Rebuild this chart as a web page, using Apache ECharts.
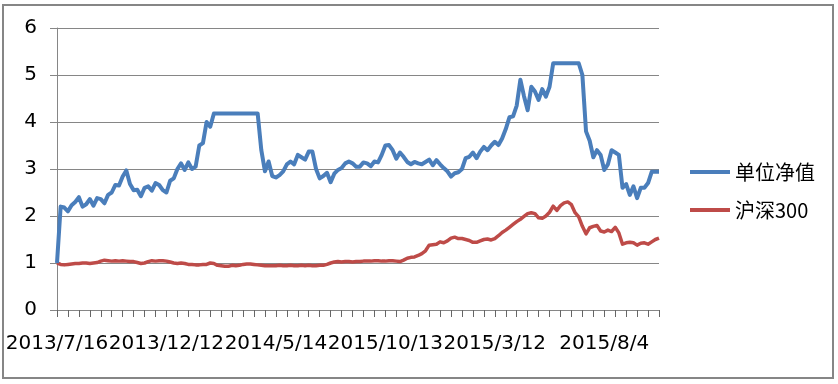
<!DOCTYPE html>
<html>
<head>
<meta charset="utf-8">
<script src="https://cdn.jsdelivr.net/npm/echarts@6/dist/echarts.min.js"></script>
<style>
html,body{margin:0;padding:0;background:#fff;}
#chart{width:838px;height:384px;}
</style>
</head>
<body>
<div id="chart"></div>
<script>
const tickLabels = ['2013/7/16', '2013/12/12', '2014/5/14', '2015/10/13', '2015/3/12', '2015/8/4'];
const seriesNames = ['单位净值', '沪深300'];

const navValues = [
  1.0, 2.2, 2.18, 2.1, 2.23, 2.3, 2.4, 2.2, 2.25, 2.36,
  2.22, 2.38, 2.36, 2.27, 2.45, 2.5, 2.66, 2.65, 2.84, 2.97,
  2.68, 2.55, 2.56, 2.42, 2.6, 2.63, 2.54, 2.7, 2.66, 2.55,
  2.5, 2.75, 2.8, 3.0, 3.12, 2.98, 3.14, 3.0, 3.05, 3.5,
  3.55, 4.0, 3.9, 4.18, 4.18, 4.18, 4.18, 4.18, 4.18, 4.18,
  4.18, 4.18, 4.18, 4.18, 4.18, 4.18, 3.4, 2.95, 3.16, 2.85,
  2.82, 2.87, 2.95, 3.1, 3.16, 3.1, 3.3, 3.25, 3.2, 3.37,
  3.37, 3.0, 2.8, 2.85, 2.92, 2.72, 2.9, 2.98, 3.02, 3.12,
  3.16, 3.12, 3.05, 3.05, 3.14, 3.12, 3.06, 3.16, 3.14, 3.3,
  3.5, 3.51, 3.4, 3.22, 3.35, 3.26, 3.15, 3.1, 3.15, 3.12,
  3.1, 3.15, 3.2, 3.08, 3.19, 3.1, 3.02, 2.95, 2.84, 2.91,
  2.93, 3.0, 3.23, 3.26, 3.35, 3.23, 3.37, 3.47, 3.4, 3.5,
  3.58, 3.51, 3.65, 3.85, 4.1, 4.12, 4.35, 4.9, 4.55, 4.25,
  4.75, 4.65, 4.47, 4.7, 4.54, 4.75, 5.25, 5.25, 5.25, 5.25,
  5.25, 5.25, 5.25, 5.25, 5.0, 3.8, 3.6, 3.25, 3.4, 3.3,
  2.98, 3.1, 3.4, 3.35, 3.3, 2.6, 2.68, 2.45, 2.63, 2.38,
  2.6, 2.6, 2.7, 2.94, 2.94, 2.94
];

const hs300Values = [
  1.0, 0.97, 0.96, 0.97, 0.98, 0.99, 0.99, 1.0, 1.0, 0.99,
  1.0, 1.01, 1.04, 1.06, 1.05, 1.04, 1.05, 1.04, 1.05, 1.04,
  1.03, 1.03, 1.01, 0.99, 1.0, 1.03, 1.05, 1.04, 1.05, 1.05,
  1.04, 1.02, 1.0, 0.99, 1.0, 0.99, 0.97, 0.97, 0.96, 0.96,
  0.97, 0.97, 1.0, 0.99, 0.95, 0.94, 0.93, 0.93, 0.95, 0.94,
  0.95, 0.97, 0.98, 0.98, 0.97, 0.96, 0.95, 0.94, 0.94, 0.94,
  0.94, 0.95, 0.94, 0.94, 0.95, 0.94, 0.94, 0.95, 0.94, 0.95,
  0.94, 0.94, 0.95, 0.95, 0.97, 1.0, 1.02, 1.03, 1.02, 1.03,
  1.03, 1.02, 1.03, 1.03, 1.04, 1.04, 1.04, 1.05, 1.05, 1.04,
  1.04, 1.05, 1.05, 1.04, 1.03, 1.06, 1.1, 1.12, 1.13, 1.16,
  1.2, 1.26, 1.38, 1.39, 1.4, 1.45, 1.43, 1.47, 1.53, 1.55,
  1.52, 1.52, 1.5, 1.48, 1.44, 1.44, 1.47, 1.5, 1.51, 1.49,
  1.52, 1.58, 1.65, 1.7, 1.76, 1.82, 1.88, 1.93, 1.99, 2.05,
  2.07, 2.05, 1.96, 1.95, 2.0, 2.08, 2.21, 2.12, 2.22, 2.28,
  2.3, 2.24, 2.07, 1.98, 1.78, 1.62, 1.75, 1.78, 1.8, 1.68,
  1.66, 1.7, 1.67, 1.76, 1.64, 1.4, 1.43, 1.44, 1.43, 1.38,
  1.42, 1.43, 1.4, 1.45, 1.5, 1.53
];

const labelEvery = 30;
const categories = navValues.map((_, i) => String(i));

const chart = echarts.init(document.getElementById('chart'), null, {renderer: 'canvas'});
const axisGray = '#868686';
chart.setOption({
  animation: false,
  backgroundColor: '#ffffff',
  graphic: [{
    type: 'rect',
    shape: {x: 3, y: 5, width: 830, height: 373},
    style: {fill: 'none', stroke: axisGray, lineWidth: 2},
    silent: true
  }],
  grid: {left: 57, right: 179, top: 28, bottom: 74, containLabel: false},
  legend: {
    orient: 'vertical',
    left: 690,
    top: 162,
    padding: 0,
    itemWidth: 40,
    itemHeight: 4,
    itemGap: 18,
    icon: 'rect',
    textStyle: {fontFamily: 'Noto Sans CJK SC', fontSize: 20, color: '#000'},
    data: seriesNames
  },
  xAxis: {
    type: 'category',
    boundaryGap: false,
    data: categories,
    axisLine: {lineStyle: {color: axisGray, width: 1}},
    axisTick: {show: true, interval: 2, length: 7, lineStyle: {color: '#666666', width: 1}},
    axisLabel: {
      interval: labelEvery - 1,
      margin: 24,
      fontFamily: 'DejaVu Sans',
      fontSize: 20,
      color: '#000',
      formatter: (v, i) => tickLabels[Math.round(i / labelEvery)] || ''
    },
    splitLine: {show: false}
  },
  yAxis: {
    type: 'value',
    min: 0,
    max: 6,
    interval: 1,
    axisLine: {show: true, lineStyle: {color: axisGray, width: 1}},
    axisTick: {show: true, length: 7, lineStyle: {color: axisGray}},
    axisLabel: {margin: 20, fontFamily: 'DejaVu Sans', fontSize: 20, color: '#000'},
    splitLine: {show: true, lineStyle: {color: axisGray, width: 1}}
  },
  series: [
    {
      name: seriesNames[0],
      type: 'line',
      data: navValues,
      showSymbol: false,
      symbol: 'none',
      color: '#4A7EBB',
      lineStyle: {width: 4, color: '#4A7EBB', join: 'round'},
      z: 3
    },
    {
      name: seriesNames[1],
      type: 'line',
      data: hs300Values,
      showSymbol: false,
      symbol: 'none',
      color: '#BE4B48',
      lineStyle: {width: 3.5, color: '#BE4B48', join: 'round'},
      z: 2
    }
  ]
});
</script>
</body>
</html>
